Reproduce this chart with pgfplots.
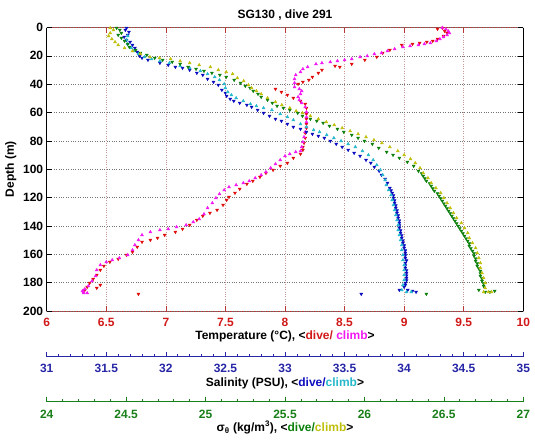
\documentclass[border=0pt]{standalone}
\usepackage{fontspec}
\setmainfont{Liberation Sans}
\usepackage{pgfplots}
\pgfplotsset{compat=1.18}
\definecolor{tred}{rgb}{0.82,0.1,0.1}
\definecolor{axred}{rgb}{0.72,0.22,0.22}
\definecolor{dred}{rgb}{0.88,0.05,0.05}
\definecolor{dmag}{rgb}{0.95,0.1,0.95}
\definecolor{dblue}{rgb}{0.05,0.05,0.75}
\definecolor{dcyan}{rgb}{0.15,0.72,0.8}
\definecolor{dgreen}{rgb}{0.05,0.5,0.05}
\definecolor{dyellow}{rgb}{0.75,0.75,0.05}
\definecolor{sblue}{rgb}{0.15,0.15,0.65}
\definecolor{sgreen}{rgb}{0.1,0.5,0.1}
\definecolor{gridx}{rgb}{0.8,0.6,0.6}
\definecolor{gridy}{rgb}{0.45,0.45,0.45}
\newcommand{\lblfont}{\bfseries\fontsize{12}{14}\selectfont}
\pgfplotsset{
  base/.style={scale only axis, width=476.6pt, height=283.5pt,
    at={(46.7pt,131pt)}, anchor=south west,
    y dir=reverse, ymin=0, ymax=200},
  hid/.style={base, hide axis},
  dive/.style={only marks, mark=triangle*, mark size=1.7pt, mark options={rotate=180}},
  climb/.style={only marks, mark=triangle*, mark size=1.7pt},
  ruler/.style={scale only axis, width=476.6pt, height=10pt, anchor=south west,
    ymin=0, ymax=1, axis x line*=bottom, axis y line=none, ytick=\empty,
    minor x tick num=4, tick align=inside,
    major tick length=4.5pt, minor tick length=2.4pt,
    /pgf/number format/assume math mode=true},
}
\begin{document}
\begin{tikzpicture}
\useasboundingbox (0,0) rectangle (535pt,442pt);
% x grid, x ticks, frame, title, x label
\begin{axis}[base, xmin=6, xmax=10,
  xtick={6,6.5,7,7.5,8,8.5,9,9.5,10}, ytick=\empty,
  xmajorgrids, x grid style={gridx, dotted, line width=0.7pt},
  tick align=inside, major tick length=5pt, tick style={axred, line width=0.6pt},
  xtick pos=both, xticklabel pos=lower,
  separate axis lines,
  x axis line style={axred, line width=0.8pt},
  y axis line style={black, line width=0.8pt},
  /pgf/number format/assume math mode=true,
  xticklabel style={font=\lblfont, text=tred, anchor=base, yshift=-15.5pt},
  title={SG130 , dive 291},
  every axis title/.style={at={(axis description cs:0.5,1)}, anchor=base, yshift=9.5pt, font=\lblfont},
  xlabel={Temperature (°C), <\textcolor{tred}{dive/} \textcolor{dmag}{climb}>},
  every axis x label/.style={at={(axis description cs:0.5,0)}, anchor=base, yshift=-28.6pt, font=\lblfont},
]
\addplot[draw=none] coordinates {(6,0)};
\end{axis}
% y grid, y ticks, y label
\begin{axis}[base, xmin=6, xmax=10, xtick=\empty,
  ytick={0,20,40,60,80,100,120,140,160,180,200},
  ymajorgrids, y grid style={gridy, dotted, line width=0.7pt},
  tick align=inside, major tick length=5pt, tick style={black, line width=0.6pt},
  ytick pos=both, yticklabel pos=left,
  axis line style={draw=none},
  /pgf/number format/assume math mode=true,
  yticklabel style={font=\lblfont, text=black},
  ylabel={Depth (m)},
  every axis y label/.style={at={(axis description cs:0,0.5)}, xshift=-32.7pt, rotate=90, anchor=base, font=\lblfont},
]
\addplot[draw=none] coordinates {(6,0)};
\end{axis}
% temperature data
\begin{axis}[hid, xmin=6, xmax=10]
\addplot[dive, color=dred] coordinates {
(9.32,0.35)(9.28,1.06)(9.34,2.47)(9.36,3.88)(9.33,6.00)(9.28,8.11)(9.24,9.52)(9.19,10.23)(9.13,10.93)(9.07,11.64)(8.98,12.35)(8.88,15.87)(8.82,17.99)(8.77,20.81)(8.67,22.93)(8.56,25.75)(8.46,27.87)(8.42,27.16)(8.31,29.98)(8.28,32.10)(8.23,34.92)(8.20,37.04)(8.15,38.45)(8.11,39.86)(7.92,43.39)(7.97,45.50)(8.02,47.62)(8.07,49.74)(8.13,51.85)(8.17,53.97)(8.18,56.79)(8.18,61.02)(8.18,64.55)(8.18,68.08)(8.18,70.90)(8.17,74.43)(8.17,77.95)(8.16,81.48)(8.15,84.30)(8.15,86.42)(8.13,89.24)(8.07,92.06)(8.02,95.59)(7.96,97.71)(7.90,100.53)(7.84,102.65)(7.79,105.47)(7.73,108.29)(7.68,110.41)(7.62,113.93)(7.58,116.75)(7.53,119.58)(7.51,121.69)(7.48,125.22)(7.43,128.75)(7.37,130.86)(7.31,132.98)(7.26,135.80)(7.20,139.33)(7.14,142.15)(7.08,144.27)(6.99,146.38)(6.93,148.50)(6.87,149.91)(6.80,151.32)(6.76,154.85)(6.72,158.38)(6.67,160.49)(6.60,163.32)(6.53,165.43)(6.48,168.25)(6.45,171.08)(6.42,174.60)(6.39,177.43)(6.36,180.25)(6.34,183.07)(6.32,185.19)(6.42,183.77)(6.45,181.66)(6.77,188.01)
};
\addplot[climb, color=dmag] coordinates {
(9.32,0.2)(9.35,1.06)(9.37,2.47)(9.38,3.88)(9.36,5.29)(9.33,6.70)(9.30,8.11)(9.27,9.52)(9.22,10.93)(9.17,11.64)(9.12,12.35)(9.05,13.05)(8.99,13.76)(8.92,15.17)(8.86,16.58)(8.81,17.99)(8.75,18.69)(8.69,20.11)(8.63,20.81)(8.56,22.22)(8.50,22.93)(8.44,23.63)(8.38,24.34)(8.31,25.04)(8.26,25.75)(8.19,27.87)(8.15,29.28)(8.13,31.39)(8.09,33.51)(8.08,36.33)(8.08,39.15)(8.08,41.98)(8.12,43.39)(8.14,44.80)(8.13,46.91)(8.11,49.03)(8.12,51.15)(8.14,53.26)(8.17,56.08)(8.18,59.61)(8.18,63.14)(8.18,66.67)(8.18,70.19)(8.17,73.72)(8.16,77.25)(8.15,80.78)(8.14,84.30)(8.13,87.13)(8.09,87.83)(8.04,89.24)(8.00,90.65)(7.96,93.48)(7.92,96.30)(7.88,99.12)(7.84,101.94)(7.80,104.06)(7.75,106.17)(7.70,108.29)(7.65,109.70)(7.59,111.11)(7.53,112.52)(7.49,114.64)(7.45,117.46)(7.42,120.28)(7.39,123.81)(7.35,127.34)(7.32,131.57)(7.28,135.10)(7.23,137.21)(7.17,139.33)(7.09,140.74)(7.02,142.15)(6.95,142.86)(6.87,144.27)(6.80,146.38)(6.77,149.91)(6.74,153.44)(6.72,156.97)(6.68,160.49)(6.61,162.61)(6.55,164.02)(6.50,165.43)(6.45,167.55)(6.42,171.08)(6.41,175.31)(6.38,178.84)(6.35,182.36)(6.32,184.48)(6.30,185.89)(6.31,187.30)(6.34,187.30)(6.31,186.60)
};
\end{axis}
% salinity data
\begin{axis}[hid, xmin=31, xmax=35]
\addplot[dive, color=dblue] coordinates {
(31.67,0.35)(31.66,1.76)(31.69,3.17)(31.68,5.29)(31.65,6.70)(31.67,8.82)(31.70,10.23)(31.72,12.35)(31.74,14.46)(31.76,17.28)(31.78,20.11)(31.80,21.52)(31.85,22.93)(31.95,25.04)(32.02,26.46)(32.08,27.87)(32.14,28.57)(32.20,29.98)(32.26,32.10)(32.31,33.51)(32.35,36.33)(32.40,38.45)(32.44,40.56)(32.47,44.09)(32.50,46.21)(32.51,48.32)(32.54,50.44)(32.57,51.85)(32.62,53.26)(32.68,54.67)(32.72,56.08)(32.77,58.20)(32.82,60.32)(32.87,62.43)(32.92,64.55)(32.97,65.96)(33.02,68.08)(33.07,70.19)(33.13,71.60)(33.18,73.72)(33.23,75.13)(33.28,76.54)(33.33,77.95)(33.38,80.07)(33.43,82.19)(33.48,84.30)(33.53,86.42)(33.58,88.54)(33.63,90.65)(33.68,93.48)(33.72,95.59)(33.75,98.41)(33.79,101.23)(33.81,104.06)(33.84,106.88)(33.86,109.70)(33.88,113.23)(33.90,116.75)(33.91,120.28)(33.92,123.81)(33.93,127.34)(33.94,130.86)(33.95,134.39)(33.96,137.92)(33.96,141.45)(33.97,144.97)(33.98,148.50)(33.99,152.03)(34.00,155.56)(34.01,159.08)(34.01,162.61)(34.01,166.14)(34.01,169.66)(34.02,173.19)(34.02,176.72)(34.01,180.25)(34.00,183.07)(34.03,185.19)(34.07,185.89)(34.10,186.60)(33.96,185.19)(33.64,188.01)
(33.89,115.0)(33.91,118.5)(33.92,122.0)(33.93,125.6)(33.94,129.1)(33.95,132.6)(33.96,136.2)(33.96,139.7)(33.97,143.2)(33.98,146.7)(33.99,150.3)(34.00,153.8)(34.01,157.3)(34.01,160.8)(34.02,164.4)(34.01,167.9)(34.02,171.4)(34.02,175.0)(34.02,178.5)(34.01,181.7)
};
\addplot[climb, color=dcyan] coordinates {
(31.68,6.00)(31.67,8.82)(31.68,11.64)(31.71,14.46)(31.73,16.58)(31.77,18.69)(31.82,20.81)(31.88,22.22)(31.95,23.63)(32.03,25.04)(32.12,27.16)(32.20,28.57)(32.29,30.69)(32.35,32.80)(32.41,34.92)(32.45,37.04)(32.49,39.86)(32.50,42.68)(32.52,45.50)(32.55,47.62)(32.59,49.74)(32.65,51.85)(32.71,53.97)(32.76,55.38)(32.82,56.79)(32.89,58.20)(32.96,61.02)(33.02,63.14)(33.07,65.26)(33.13,68.08)(33.18,70.19)(33.24,72.31)(33.29,73.72)(33.35,75.84)(33.41,77.95)(33.47,80.07)(33.53,82.19)(33.59,84.30)(33.65,87.13)(33.70,89.95)(33.74,93.48)(33.77,97.00)(33.80,100.53)(33.82,104.06)(33.84,107.58)(33.85,111.11)(33.87,114.64)(33.89,118.17)(33.90,121.69)(33.91,125.22)(33.92,128.75)(33.93,132.28)(33.94,135.80)(33.95,139.33)(33.95,142.86)(33.96,146.38)(33.97,149.91)(33.98,153.44)(33.98,156.97)(33.99,160.49)(33.99,164.02)(34.00,167.55)(34.00,171.08)(34.00,174.60)(34.00,178.13)(33.99,181.66)(33.98,185.19)(34.02,186.60)(34.06,186.60)
};
\end{axis}
% sigma-theta data
\begin{axis}[hid, xmin=24, xmax=27]
\addplot[dive, color=dgreen] coordinates {
(24.44,0.35)(24.46,1.76)(24.47,3.88)(24.45,5.29)(24.47,7.41)(24.49,9.52)(24.51,11.64)(24.52,13.76)(24.56,15.87)(24.59,17.99)(24.63,19.40)(24.68,21.52)(24.73,22.93)(24.79,24.34)(24.84,25.75)(24.89,27.87)(24.94,29.28)(24.99,30.69)(25.04,32.10)(25.09,33.51)(25.13,34.92)(25.18,37.04)(25.22,39.15)(25.25,41.27)(25.28,42.68)(25.30,44.80)(25.33,46.91)(25.35,49.03)(25.39,51.15)(25.42,53.26)(25.45,55.38)(25.49,56.79)(25.53,58.20)(25.58,60.32)(25.61,62.43)(25.66,64.55)(25.70,65.96)(25.74,67.37)(25.78,69.49)(25.83,71.60)(25.87,73.72)(25.92,75.84)(25.96,77.95)(26.00,80.07)(26.05,82.19)(26.09,85.01)(26.14,87.83)(26.18,89.95)(26.22,92.06)(26.27,94.89)(26.31,97.71)(26.34,101.23)(26.37,104.76)(26.39,108.29)(26.42,111.82)(26.44,115.34)(26.47,118.87)(26.49,122.40)(26.51,125.93)(26.53,129.45)(26.55,132.98)(26.57,136.51)(26.59,140.04)(26.61,143.56)(26.63,147.09)(26.65,150.62)(26.66,154.15)(26.68,157.67)(26.69,161.20)(26.70,164.73)(26.71,168.25)(26.73,171.78)(26.73,175.31)(26.74,178.84)(26.75,182.36)(26.72,185.19)(26.76,186.60)(26.79,186.60)(26.82,185.89)(26.39,188.01)
(26.36,103.0)(26.38,106.5)(26.41,110.0)(26.43,113.6)(26.46,117.1)(26.48,120.6)(26.50,124.2)(26.52,127.7)(26.54,131.2)(26.56,134.7)(26.58,138.3)(26.60,141.8)(26.62,145.3)(26.64,148.9)(26.66,152.4)(26.67,155.9)(26.69,159.4)(26.70,163.0)(26.71,166.5)(26.72,170.0)(26.73,173.5)(26.74,177.1)(26.75,180.6)
};
\addplot[climb, color=dyellow] coordinates {
(24.40,0.35)(24.42,1.76)(24.40,3.88)(24.39,6.00)(24.41,8.11)(24.43,10.23)(24.45,12.35)(24.49,14.46)(24.54,16.58)(24.59,18.69)(24.65,20.81)(24.71,21.52)(24.78,22.22)(24.84,23.63)(24.90,25.04)(24.96,26.46)(25.03,27.87)(25.08,29.98)(25.13,31.39)(25.17,32.80)(25.20,35.63)(25.24,37.74)(25.27,40.56)(25.29,42.68)(25.32,44.80)(25.35,46.91)(25.39,49.74)(25.44,52.56)(25.48,54.67)(25.53,56.79)(25.57,58.91)(25.61,60.32)(25.66,62.43)(25.71,64.55)(25.76,66.67)(25.81,68.78)(25.86,70.90)(25.91,73.02)(25.96,75.13)(26.01,77.25)(26.06,79.37)(26.11,81.48)(26.16,84.30)(26.21,87.13)(26.25,89.95)(26.29,92.77)(26.32,95.59)(26.35,99.12)(26.37,102.65)(26.40,106.17)(26.42,109.70)(26.45,113.23)(26.48,116.75)(26.50,120.28)(26.52,123.81)(26.54,127.34)(26.56,130.86)(26.58,134.39)(26.61,137.92)(26.63,141.45)(26.65,144.97)(26.66,148.50)(26.68,152.03)(26.70,155.56)(26.71,159.08)(26.72,162.61)(26.73,166.14)(26.73,169.66)(26.74,173.19)(26.75,176.72)(26.76,180.25)(26.76,183.77)(26.75,186.60)(26.78,186.60)(26.80,186.60)
};
\end{axis}
% salinity ruler
\begin{axis}[ruler, at={(46.7pt,85.3pt)}, xmin=31, xmax=35,
  xtick={31,31.5,32,32.5,33,33.5,34,34.5,35},
  tick style={sblue, line width=0.6pt},
  x axis line style={sblue, line width=0.8pt},
  xticklabel style={font=\lblfont, text=sblue, anchor=base, yshift=-16pt},
  xlabel={Salinity (PSU), <\textcolor{dblue}{dive/}\textcolor{dcyan}{climb}>},
  every axis x label/.style={at={(axis description cs:0.5,0)}, anchor=base, yshift=-29.3pt, font=\lblfont},
]
\addplot[draw=none] coordinates {(31,0)};
\end{axis}
% sigma ruler
\begin{axis}[ruler, at={(46.7pt,40.3pt)}, xmin=24, xmax=27,
  xtick={24,24.5,25,25.5,26,26.5,27},
  tick style={sgreen, line width=0.6pt},
  x axis line style={sgreen, line width=0.8pt},
  xticklabel style={font=\lblfont, text=sgreen, anchor=base, yshift=-16.5pt},
  xlabel={σ\textsubscript{θ} (kg/m\textsuperscript{3}), <\textcolor{dgreen}{dive/}\textcolor{dyellow}{climb}>},
  every axis x label/.style={at={(axis description cs:0.5,0)}, anchor=base, yshift=-29.5pt, font=\lblfont},
]
\addplot[draw=none] coordinates {(24,0)};
\end{axis}
\end{tikzpicture}
\end{document}
